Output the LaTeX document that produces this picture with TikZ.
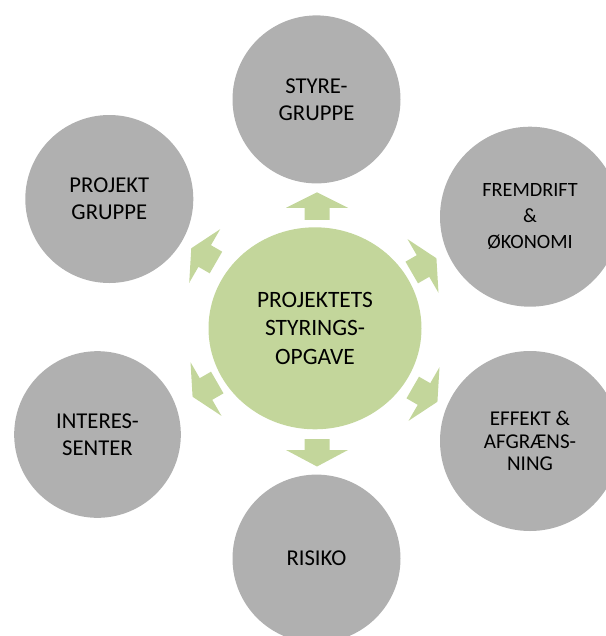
\documentclass[tikz,border=0pt]{standalone}
\usepackage{fontspec}
\setmainfont{Carlito}
\usetikzlibrary{shapes.geometric}

\definecolor{ringgray}{HTML}{B0B0B0}
\definecolor{hubgreen}{HTML}{C3D69B}

\tikzset{every picture/.style={line width=0.75pt}}
\tikzset{
  outer/.style={circle, fill=ringgray, draw=none, inner sep=0pt, align=center, text=black, font=\fontsize{17}{20}\selectfont},
  hub/.style={ellipse, fill=hubgreen, draw=none, inner sep=0pt, align=center, text=black, font=\fontsize{17.6}{21.2}\selectfont},
  blockarrow/.style={fill=hubgreen, draw=none}
}

\begin{document}
\begin{tikzpicture}[x=0.75pt,y=0.75pt,yscale=-1,xscale=1]

\clip (0,0) rectangle (606,636);

% outer circles
\node [outer, minimum size=126pt] (styre) at (316.5,99.4) {STYRE-\\GRUPPE};
\node [outer, minimum size=126pt] (projekt) at (109.3,199) {PROJEKT\\GRUPPE};
\node [outer, minimum size=135pt, font=\fontsize{15.2}{19.4}\selectfont] (fremdrift) at (530,216.7) {FREMDRIFT\\\&\\ØKONOMI};
\node [outer, minimum size=125pt] (interes) at (97.5,434.5) {INTERES-\\SENTER};
\node [outer, minimum size=135pt, font=\fontsize{15.8}{17}\selectfont] (effekt) at (530,441) {EFFEKT \&\\AFGRÆNS-\\NING};
\node [outer, minimum size=126pt] (risiko) at (316.5,558.6) {RISIKO};

% center
\node [hub, minimum width=159.75pt, minimum height=151.5pt] (opgave) at (315,328.3) {PROJEKTETS\\STYRINGS-\\OPGAVE};

% arrows
\fill [blockarrow, shift={(317,207.8)}, rotate=-90] (-12,-12.5) -- (0,-12.5) -- (0,-31) -- (15.5,0) -- (0,31) -- (0,12.5) -- (-12,12.5) -- cycle ;
\fill [blockarrow, shift={(317,450)}, rotate=-270] (-11,-12.5) -- (0,-12.5) -- (0,-31) -- (16.5,0) -- (0,31) -- (0,12.5) -- (-11,12.5) -- cycle ;
\fill [blockarrow, shift={(204.7,256)}, rotate=-150] (-13,-12.5) -- (0,-12.5) -- (0,-31) -- (15.5,0) -- (0,31) -- (0,12.5) -- (-13,12.5) -- cycle ;
\fill [blockarrow, shift={(206,389)}, rotate=-210] (-13,-12.5) -- (0,-12.5) -- (0,-31) -- (15.5,0) -- (0,31) -- (0,12.5) -- (-13,12.5) -- cycle ;
\fill [blockarrow, shift={(423,266)}, rotate=-30] (-13,-12.5) -- (0,-12.5) -- (0,-31) -- (15.5,0) -- (0,31) -- (0,12.5) -- (-13,12.5) -- cycle ;
\fill [blockarrow, shift={(424,394)}, rotate=30] (-13,-12.5) -- (0,-12.5) -- (0,-31) -- (15.5,0) -- (0,31) -- (0,12.5) -- (-13,12.5) -- cycle ;

\end{tikzpicture}
\end{document}
